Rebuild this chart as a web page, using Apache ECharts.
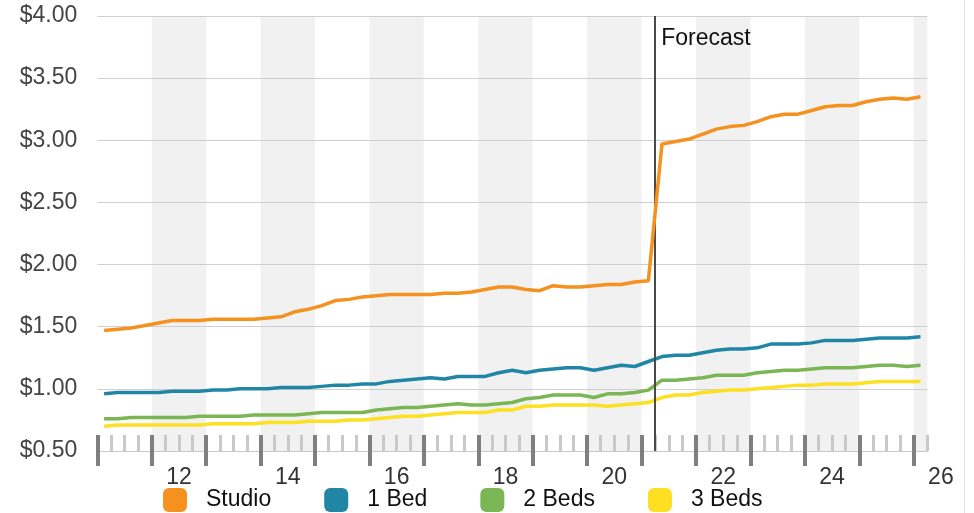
<!DOCTYPE html>
<html><head><meta charset="utf-8">
<script src="https://cdn.jsdelivr.net/npm/echarts@6/dist/echarts.min.js"></script>
<style>html,body{margin:0;padding:0;background:#fff}#c{width:974px;height:513px}</style>
</head><body><div id="c"></div>
<script>
// Quarterly periods (points plotted at mid-quarter)
const periods = [
 '2011Q1','2011Q2','2011Q3','2011Q4','2012Q1','2012Q2','2012Q3','2012Q4',
 '2013Q1','2013Q2','2013Q3','2013Q4','2014Q1','2014Q2','2014Q3','2014Q4',
 '2015Q1','2015Q2','2015Q3','2015Q4','2016Q1','2016Q2','2016Q3','2016Q4',
 '2017Q1','2017Q2','2017Q3','2017Q4','2018Q1','2018Q2','2018Q3','2018Q4',
 '2019Q1','2019Q2','2019Q3','2019Q4','2020Q1','2020Q2','2020Q3','2020Q4',
 '2021Q1','2021Q2','2021Q3','2021Q4','2022Q1','2022Q2','2022Q3','2022Q4',
 '2023Q1','2023Q2','2023Q3','2023Q4','2024Q1','2024Q2','2024Q3','2024Q4',
 '2025Q1','2025Q2','2025Q3','2025Q4','2026Q1'
];
const seriesNames = ['Studio', '1 Bed', '2 Beds', '3 Beds'];
const studio = [
 1.47,1.48,1.49,1.51,1.53,1.55,1.55,1.55,1.56,1.56,
 1.56,1.56,1.57,1.58,1.62,1.64,1.67,1.71,1.72,1.74,
 1.75,1.76,1.76,1.76,1.76,1.77,1.77,1.78,1.80,1.82,
 1.82,1.80,1.79,1.83,1.82,1.82,1.83,1.84,1.84,1.86,
 1.87,2.97,2.99,3.01,3.05,3.09,3.11,3.12,3.15,3.19,
 3.21,3.21,3.24,3.27,3.28,3.28,3.31,3.33,3.34,3.33,
 3.35
];
const bed1 = [
 0.96,0.97,0.97,0.97,0.97,0.98,0.98,0.98,0.99,0.99,
 1.00,1.00,1.00,1.01,1.01,1.01,1.02,1.03,1.03,1.04,
 1.04,1.06,1.07,1.08,1.09,1.08,1.10,1.10,1.10,1.13,
 1.15,1.13,1.15,1.16,1.17,1.17,1.15,1.17,1.19,1.18,
 1.22,1.26,1.27,1.27,1.29,1.31,1.32,1.32,1.33,1.36,
 1.36,1.36,1.37,1.39,1.39,1.39,1.40,1.41,1.41,1.41,
 1.42
];
const bed2 = [
 0.76,0.76,0.77,0.77,0.77,0.77,0.77,0.78,0.78,0.78,
 0.78,0.79,0.79,0.79,0.79,0.80,0.81,0.81,0.81,0.81,
 0.83,0.84,0.85,0.85,0.86,0.87,0.88,0.87,0.87,0.88,
 0.89,0.92,0.93,0.95,0.95,0.95,0.93,0.96,0.96,0.97,
 0.99,1.07,1.07,1.08,1.09,1.11,1.11,1.11,1.13,1.14,
 1.15,1.15,1.16,1.17,1.17,1.17,1.18,1.19,1.19,1.18,
 1.19
];
const bed3 = [
 0.70,0.71,0.71,0.71,0.71,0.71,0.71,0.71,0.72,0.72,
 0.72,0.72,0.73,0.73,0.73,0.74,0.74,0.74,0.75,0.75,
 0.76,0.77,0.78,0.78,0.79,0.80,0.81,0.81,0.81,0.83,
 0.83,0.86,0.86,0.87,0.87,0.87,0.87,0.86,0.87,0.88,
 0.89,0.93,0.95,0.95,0.97,0.98,0.99,0.99,1.00,1.01,
 1.02,1.03,1.03,1.04,1.04,1.04,1.05,1.06,1.06,1.06,
 1.06
];
const yearTicks = [2011,2012,2013,2014,2015,2016,2017,2018,2019,2020,2021,2022,2023,2024,2025,2026];
const yearLabels = [2012,2014,2016,2018,2020,2022,2024,2026];
const forecastStart = 2021.25;
const forecastLabel = 'Forecast';

const colors = ['#F4911F', '#2186A6', '#7BB655', '#FDE022'];
const FONT = '"Liberation Sans", Arial, Helvetica, sans-serif';

function periodToX(p) {
  const y = +p.slice(0, 4), q = +p.slice(5);
  return y + (q - 1) * 0.25 + 0.125;
}
const L = 97.3, W = 830, T = 16, B = 62;
const yearW = W / 15.25;

const chart = echarts.init(document.getElementById('c'), null, {renderer: 'canvas'});
const allData = [studio, bed1, bed2, bed3];

const series = seriesNames.map((name, k) => ({
  name, type: 'line', xAxisIndex: 0, yAxisIndex: 0,
  data: periods.map((p, i) => [periodToX(p), allData[k][i]]),
  symbol: 'none', showSymbol: false,
  lineStyle: {width: 3.5, color: colors[k]},
  itemStyle: {color: colors[k]},
  z: 5 - k,
  animation: false
}));
series[0].markLine = {
  silent: true, symbol: ['none', 'none'], animation: false,
  label: {show: false},
  lineStyle: {color: '#4a4a4a', width: 2, type: 'solid'},
  data: [{xAxis: forecastStart}]
};

chart.setOption({
  animation: false,
  textStyle: {fontFamily: FONT},
  color: colors,
  grid: [
    {left: L, width: W, top: T, bottom: B},
    {left: L, width: yearW * 16, top: T, bottom: B}
  ],
  xAxis: [
    {gridIndex: 0, type: 'value', position: 'bottom', min: 2011, max: 2026.25, interval: 0.25, z: 1,
     axisLine: {show: true, lineStyle: {color: '#c8c8c8', width: 1}},
     axisTick: {show: true, inside: true, length: 16, lineStyle: {color: '#c9c9c9', width: 3}},
     axisLabel: {show: false}, splitLine: {show: false}},
    {gridIndex: 0, type: 'value', position: 'bottom', min: 2011, max: 2026.25, interval: 1, z: -1,
     axisLine: {show: false}, axisTick: {show: false}, axisLabel: {show: false},
     splitLine: {show: false},
     splitArea: {show: true, areaStyle: {color: ['rgba(255,255,255,0)', '#f1f1f1']}}},
    {gridIndex: 0, type: 'value', position: 'bottom', min: 2011, max: 2026.25, interval: 1, offset: 15, z: 2,
     axisLine: {show: false},
     axisTick: {show: true, inside: true, length: 31, customValues: yearTicks,
                lineStyle: {color: '#7f7f7f', width: 4}},
     axisLabel: {show: false}, splitLine: {show: false}},
    {gridIndex: 1, type: 'value', position: 'bottom', min: 2011, max: 2027, interval: 0.5,
     axisLine: {show: false}, axisTick: {show: false}, splitLine: {show: false},
     axisLabel: {show: true, margin: 15, fontSize: 23, color: '#333', fontFamily: FONT,
       showMinLabel: true, showMaxLabel: true, hideOverlap: false,
       formatter: v => {
         const yr = Math.floor(v);
         return (Math.abs(v - yr - 0.5) < 1e-6 && yearLabels.indexOf(yr) >= 0) ? String(yr - 2000) : '';
       }}}
  ],
  yAxis: [
    {gridIndex: 0, type: 'value', position: 'left', min: 0.5, max: 4, interval: 0.5, z: 1,
     axisLine: {show: false}, axisTick: {show: false},
     axisLabel: {fontSize: 23, color: '#444', margin: 20, fontFamily: FONT,
                 formatter: v => '$' + v.toFixed(2)},
     splitLine: {show: true, lineStyle: {color: '#cfcfcf', width: 1}}},
    {gridIndex: 1, type: 'value', min: 0.5, max: 4, show: false}
  ],
  legend: {
    left: 158, top: 483, itemWidth: 24, itemHeight: 24, itemGap: 53,
    icon: 'roundRect',
    textStyle: {fontSize: 23, color: '#111', fontFamily: FONT, padding: [0, 0, 0, 14]},
    data: seriesNames
  },
  series
});

const fx = chart.convertToPixel({xAxisIndex: 0}, forecastStart);
chart.setOption({
  graphic: [
    {type: 'text', left: fx + 6, top: 27, z: 10,
     style: {text: forecastLabel, font: '23px ' + FONT, fill: '#111'}},
    {type: 'line', z: 10, shape: {x1: 964.5, y1: 0, x2: 964.5, y2: 513},
     style: {stroke: '#e2e2e2', lineWidth: 1}}
  ]
});
</script>
</body></html>
